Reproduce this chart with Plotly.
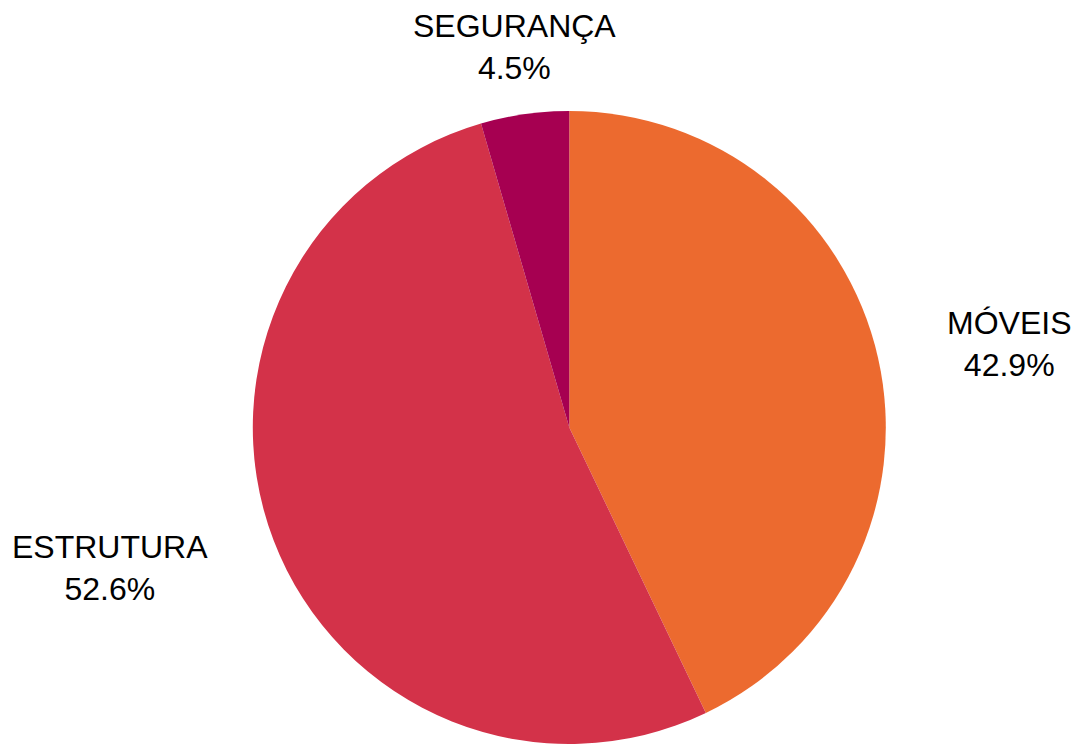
import math
import plotly.graph_objects as go

labels = ["MÓVEIS", "ESTRUTURA", "SEGURANÇA"]
values = [42.9, 52.6, 4.5]
colors = ["#EC6A2F", "#D33249", "#A60051"]

W, H = 1073, 744
CX, CY = 569.3, 427.5      # pie centre in figure pixels
R = 316.5                  # pie radius in pixels
LCX, LCY = 569.3, 430.0    # centre used to place labels
LABEL_R = 387.0            # label distance from centre in pixels
FONT = dict(family="Liberation Sans, Arial, sans-serif", size=32, color="#000000")

fig = go.Figure(go.Pie(
    labels=labels,
    values=values,
    sort=False,
    direction="clockwise",
    rotation=0,
    marker=dict(colors=colors, line=dict(width=0)),
    textinfo="none",
    hoverinfo="label+percent",
    domain=dict(x=[(CX - R) / W, (CX + R) / W],
                y=[max(0.0, 1 - (CY + R) / H), 1 - (CY - R) / H]),
))

total = sum(values)
cum = 0.0
annotations = []
for lab, val in zip(labels, values):
    mid = (cum + val / 2) / total * 2 * math.pi
    cum += val
    sx, cy_ = math.sin(mid), math.cos(mid)
    px = LCX + LABEL_R * sx
    py = LCY - LABEL_R * cy_
    if sx > 0.3:
        xa = "left"
    elif sx < -0.3:
        xa = "right"
    else:
        xa = "center"
    annotations.append(dict(
        x=px / W, y=1 - py / H, xref="paper", yref="paper",
        xanchor=xa, yanchor="middle", showarrow=False,
        text=f"{lab}<br>{val / total * 100:.1f}%", font=FONT, align="center",
        borderpad=0, borderwidth=0,
    ))

fig.update_layout(
    width=W, height=H,
    margin=dict(l=0, r=0, t=0, b=0),
    showlegend=False,
    paper_bgcolor="white",
    plot_bgcolor="white",
    annotations=annotations,
)

fig.write_html(
    "out.html",
    config={"displayModeBar": False},
    post_script="document.body.style.margin='0px';document.body.style.overflow='hidden';",
)
